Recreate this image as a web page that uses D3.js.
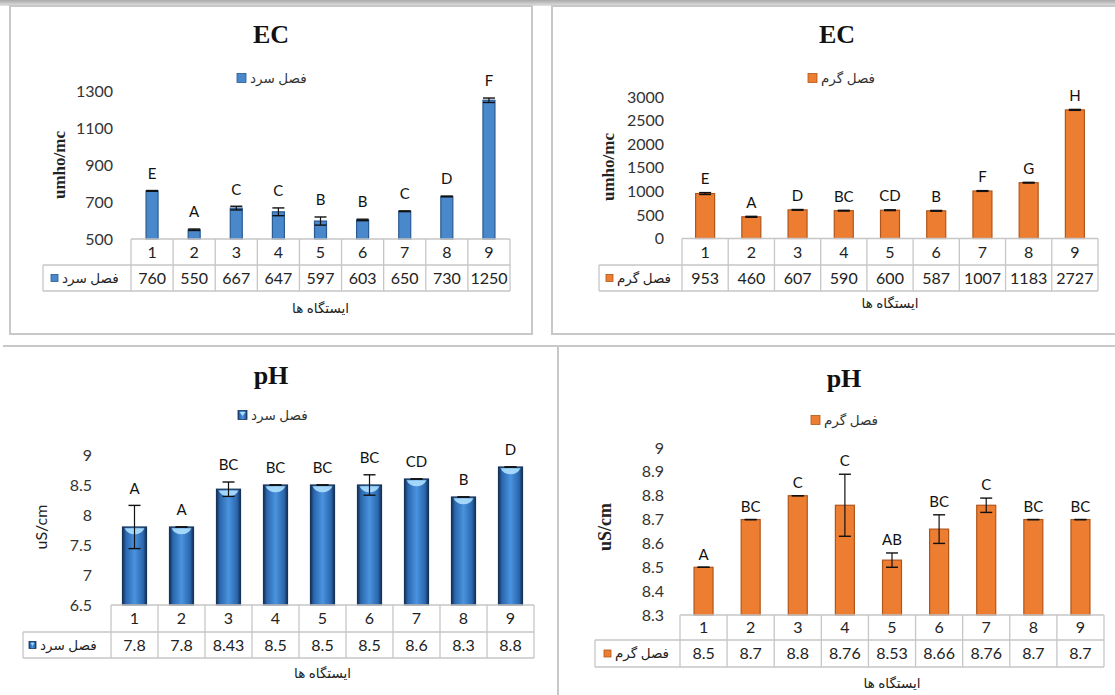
<!DOCTYPE html>
<html>
<head>
<meta charset="utf-8">
<script src="https://cdn.jsdelivr.net/npm/d3@7"></script>
<style>
  body { margin: 0; background: #fff; }
  svg { display: block; }
</style>
</head>
<body>
<svg id="chart" width="1115" height="695"></svg>
<script>
// ---- data ----
const stations = ["1", "2", "3", "4", "5", "6", "7", "8", "9"];

const seriesCold = "فصل سرد";
const seriesWarm = "فصل گرم";
const stationsTitle = "ایستگاه ها";

const ecColdValues  = [760, 550, 667, 647, 597, 603, 650, 730, 1250];
const ecColdErrors  = [2, 4, 10, 21, 22, 4, 2, 2, 12];
const ecColdLetters = ["E", "A", "C", "C", "B", "B", "C", "D", "F"];
const ecColdTicks   = [500, 700, 900, 1100, 1300];

const ecWarmValues  = [953, 460, 607, 590, 600, 587, 1007, 1183, 2727];
const ecWarmErrors  = [20, 10, 8, 8, 8, 8, 8, 8, 10];
const ecWarmLetters = ["E", "A", "D", "BC", "CD", "B", "F", "G", "H"];
const ecWarmTicks   = [0, 500, 1000, 1500, 2000, 2500, 3000];

const phColdValues  = [7.8, 7.8, 8.43, 8.5, 8.5, 8.5, 8.6, 8.3, 8.8];
const phColdErrors  = [0.36, 0, 0.12, 0, 0, 0.17, 0, 0, 0];
const phColdLetters = ["A", "A", "BC", "BC", "BC", "BC", "CD", "B", "D"];
const phColdTicks   = [6.5, 7, 7.5, 8, 8.5, 9];

const phWarmValues  = [8.5, 8.7, 8.8, 8.76, 8.53, 8.66, 8.76, 8.7, 8.7];
const phWarmErrors  = [0, 0, 0, 0.13, 0.03, 0.06, 0.03, 0, 0];
const phWarmLetters = ["A", "BC", "C", "C", "AB", "BC", "C", "BC", "BC"];
const phWarmTicks   = [8.3, 8.4, 8.5, 8.6, 8.7, 8.8, 8.9, 9];

// ---- styles ----
const SANS = "Lato, 'DejaVu Sans', sans-serif";
const SERIF = "'Liberation Serif', 'DejaVu Serif', serif";
const GRID = "#c6c6c6";
const FRAME = "#c8c8c8";

const svg = d3.select("#chart");
const defs = svg.append("defs");

// glossy blue fill for the cold-season pH bars
const glossBlue = defs.append("linearGradient").attr("id", "glossBlue")
  .attr("x1", "0%").attr("x2", "100%").attr("y1", "0%").attr("y2", "0%");
[[0, "#142f55"], [0.14, "#2a66ad"], [0.5, "#4a93de"], [0.86, "#2a66ad"], [1, "#142f55"]]
  .forEach(([o, c]) => glossBlue.append("stop").attr("offset", o).attr("stop-color", c));

const topBand = defs.append("linearGradient").attr("id", "topBand")
  .attr("x1", "0").attr("x2", "0").attr("y1", "0").attr("y2", "1");
[[0, "#a9a9a9"], [1, "#e2e2e2"]]
  .forEach(([o, c]) => topBand.append("stop").attr("offset", o).attr("stop-color", c));

// ---- page frame ----
svg.append("rect").attr("x", 0).attr("y", 0).attr("width", 1115).attr("height", 6)
  .attr("fill", "url(#topBand)");
svg.append("rect").attr("x", 10).attr("y", 6).attr("width", 522).attr("height", 328)
  .attr("fill", "none").attr("stroke", FRAME).attr("stroke-width", 2);
svg.append("rect").attr("x", 552).attr("y", 6).attr("width", 600).attr("height", 328)
  .attr("fill", "none").attr("stroke", FRAME).attr("stroke-width", 2);
svg.append("line").attr("x1", 3).attr("x2", 1115).attr("y1", 346).attr("y2", 346)
  .attr("stroke", FRAME).attr("stroke-width", 2);
svg.append("line").attr("x1", 558).attr("x2", 558).attr("y1", 346).attr("y2", 695)
  .attr("stroke", FRAME).attr("stroke-width", 2);

// ---- bar styles ----
const styles = {
  blue:   { fill: "#4a88cc", stroke: "#2a5a92", gloss: false },
  orange: { fill: "#ed7d31", stroke: "#b0561b", gloss: false },
  glossy: { fill: "url(#glossBlue)", stroke: "#163458", gloss: true }
};

function legendKey(g, x, y, size, style) {
  g.append("rect").attr("x", x).attr("y", y).attr("width", size).attr("height", size)
    .attr("fill", style.fill).attr("stroke", style.stroke).attr("stroke-width", 0.8);
  if (style.gloss) {
    g.append("path")
      .attr("d", `M${x + 1.5},${y + 1.5} L${x + size - 1.5},${y + 1.5} L${x + size / 2},${y + size * 0.6} Z`)
      .attr("fill", "#a9dcff");
  }
}

function drawPanel(c) {
  const g = svg.append("g");
  const style = styles[c.style];

  const x = d3.scaleBand().domain(stations).range([c.catLeft, c.right]).padding(0);
  const y = d3.scaleLinear().domain(c.domain).range([c.rows[0], c.plotTop]);

  // title
  g.append("text").attr("x", c.titleX).attr("y", c.titleY).attr("dy", "0.34em")
    .attr("text-anchor", "middle").attr("font-family", SERIF).attr("font-weight", "bold")
    .attr("font-size", 26).attr("fill", "#111").text(c.title);

  // legend
  legendKey(g, c.legendX, c.legendY - 4.5, 9, style);
  g.append("text").attr("x", c.legendX + 13).attr("y", c.legendY).attr("dy", "0.35em")
    .attr("font-family", SANS).attr("font-size", 13.5).attr("fill", "#333").text(c.series);

  // y axis labels
  const axis = d3.axisLeft(y).tickValues(c.ticks).tickSize(0).tickPadding(0)
    .tickFormat(d => String(+d.toFixed(2)));
  const ag = g.append("g").attr("transform", `translate(${c.tickX},0)`).call(axis);
  ag.select(".domain").remove();
  ag.selectAll("text").attr("font-family", SANS).attr("font-size", 16).attr("fill", "#333");

  // y axis title
  g.append("text")
    .attr("transform", `translate(${c.yTitleX},${c.yTitleY}) rotate(-90)`)
    .attr("text-anchor", "middle").attr("dy", "0.35em")
    .attr("font-family", c.yTitleSerif ? SERIF : SANS)
    .attr("font-weight", c.yTitleSerif ? "bold" : "normal")
    .attr("font-size", c.yTitleSize).attr("fill", "#222").text(c.yTitle);

  // bars
  const data = stations.map((s, i) => ({ s, v: c.values[i], e: c.errors[i], l: c.letters[i] }));
  const bw = c.barWidth;
  const bars = g.append("g").selectAll("g").data(data).join("g");
  bars.append("rect")
    .attr("x", d => x(d.s) + (x.bandwidth() - bw) / 2)
    .attr("y", d => y(d.v))
    .attr("width", bw)
    .attr("height", d => y(c.domain[0]) - y(d.v))
    .attr("fill", style.fill).attr("stroke", style.stroke).attr("stroke-width", 1.2);
  if (style.gloss) {
    bars.append("path")
      .attr("d", d => {
        const x0 = x(d.s) + (x.bandwidth() - bw) / 2 + 2, x1 = x0 + bw - 4, t = y(d.v) + 1.2;
        const cx = (x0 + x1) / 2;
        return `M${x0},${t} L${x1},${t} Q${x1 - 3},${t + 6} ${cx},${t + 6} Q${x0 + 3},${t + 6} ${x0},${t} Z`;
      })
      .attr("fill", "#aee0ff").attr("opacity", 0.9);
  }

  // error bars
  const cap = 6;
  bars.append("line")
    .attr("x1", d => x(d.s) + x.bandwidth() / 2).attr("x2", d => x(d.s) + x.bandwidth() / 2)
    .attr("y1", d => y(d.v + d.e)).attr("y2", d => y(d.v - d.e))
    .attr("stroke", "#111").attr("stroke-width", 1.2);
  [1, -1].forEach(sign => {
    bars.append("line")
      .attr("x1", d => x(d.s) + x.bandwidth() / 2 - cap).attr("x2", d => x(d.s) + x.bandwidth() / 2 + cap)
      .attr("y1", d => y(d.v + sign * d.e)).attr("y2", d => y(d.v + sign * d.e))
      .attr("stroke", "#111").attr("stroke-width", 1.4);
  });

  // group letters
  bars.append("text")
    .attr("x", d => x(d.s) + x.bandwidth() / 2)
    .attr("y", d => y(d.v + d.e) - c.labelGap)
    .attr("dy", "0.35em").attr("text-anchor", "middle")
    .attr("font-family", SANS).attr("font-size", 15).attr("fill", "#111")
    .text(d => d.l);

  // data table
  const [r0, r1, r2] = c.rows;
  const tg = g.append("g").attr("stroke", GRID).attr("stroke-width", 1.3);
  tg.append("line").attr("x1", c.catLeft).attr("x2", c.right).attr("y1", r0).attr("y2", r0);
  tg.append("line").attr("x1", c.legendLeft).attr("x2", c.right).attr("y1", r1).attr("y2", r1);
  tg.append("line").attr("x1", c.legendLeft).attr("x2", c.right).attr("y1", r2).attr("y2", r2);
  tg.append("line").attr("x1", c.legendLeft).attr("x2", c.legendLeft).attr("y1", r1).attr("y2", r2);
  const edges = stations.map(s => x(s)).concat([c.right]);
  tg.selectAll("line.col").data(edges).join("line").attr("class", "col")
    .attr("x1", d => d).attr("x2", d => d).attr("y1", r0).attr("y2", r2);

  g.append("g").selectAll("text").data(data).join("text")
    .attr("x", d => x(d.s) + x.bandwidth() / 2).attr("y", (r0 + r1) / 2).attr("dy", "0.36em")
    .attr("text-anchor", "middle").attr("font-family", SANS).attr("font-size", 16).attr("fill", "#222")
    .text(d => d.s);
  g.append("g").selectAll("text").data(data).join("text")
    .attr("x", d => x(d.s) + x.bandwidth() / 2).attr("y", (r1 + r2) / 2).attr("dy", "0.36em")
    .attr("text-anchor", "middle").attr("font-family", SANS).attr("font-size", 16).attr("fill", "#222")
    .text(d => String(d.v));

  legendKey(g, c.legendLeft + c.keyOffset, (r1 + r2) / 2 - 3.5, 7, style);
  g.append("text").attr("x", c.legendLeft + c.keyOffset + 11).attr("y", (r1 + r2) / 2).attr("dy", "0.35em")
    .attr("font-family", SANS).attr("font-size", 13.5).attr("fill", "#222").text(c.series);

  // x axis title
  g.append("text").attr("x", (c.catLeft + c.right) / 2).attr("y", c.xTitleY).attr("dy", "0.35em")
    .attr("text-anchor", "middle").attr("font-family", SANS).attr("font-size", 13.5).attr("fill", "#222")
    .text(stationsTitle);
}

drawPanel({
  title: "EC", titleX: 271, titleY: 34, series: seriesCold, legendX: 237, legendY: 78,
  values: ecColdValues, errors: ecColdErrors, letters: ecColdLetters, ticks: ecColdTicks,
  domain: [500, 1300], plotTop: 91, tickX: 113,
  yTitle: "umho/mc", yTitleX: 59, yTitleY: 165, yTitleSerif: true, yTitleSize: 17,
  legendLeft: 43, catLeft: 131, right: 510, rows: [239, 265, 291], keyOffset: 8,
  barWidth: 12, style: "blue", labelGap: 17, xTitleY: 308
});

drawPanel({
  title: "EC", titleX: 837, titleY: 34, series: seriesWarm, legendX: 808, legendY: 78,
  values: ecWarmValues, errors: ecWarmErrors, letters: ecWarmLetters, ticks: ecWarmTicks,
  domain: [0, 3000], plotTop: 97, tickX: 664,
  yTitle: "umho/mc", yTitleX: 608, yTitleY: 167, yTitleSerif: true, yTitleSize: 17,
  legendLeft: 599, catLeft: 682, right: 1098, rows: [238.5, 265, 291], keyOffset: 7,
  barWidth: 19, style: "orange", labelGap: 14, xTitleY: 303
});

drawPanel({
  title: "pH", titleX: 271, titleY: 375, series: seriesCold, legendX: 238, legendY: 415,
  values: phColdValues, errors: phColdErrors, letters: phColdLetters, ticks: phColdTicks,
  domain: [6.5, 9], plotTop: 455, tickX: 92,
  yTitle: "uS/cm", yTitleX: 41, yTitleY: 527, yTitleSerif: false, yTitleSize: 16,
  legendLeft: 23, catLeft: 111, right: 534, rows: [605, 632, 658], keyOffset: 6,
  barWidth: 24, style: "glossy", labelGap: 17, xTitleY: 673
});

drawPanel({
  title: "pH", titleX: 844, titleY: 378, series: seriesWarm, legendX: 811, legendY: 420,
  values: phWarmValues, errors: phWarmErrors, letters: phWarmLetters, ticks: phWarmTicks,
  domain: [8.3, 9], plotTop: 448, tickX: 664,
  yTitle: "uS/cm", yTitleX: 605, yTitleY: 527, yTitleSerif: true, yTitleSize: 18,
  legendLeft: 595, catLeft: 680, right: 1104, rows: [615, 640, 667], keyOffset: 9,
  barWidth: 19, style: "orange", labelGap: 13, xTitleY: 683
});
</script>
</body>
</html>
